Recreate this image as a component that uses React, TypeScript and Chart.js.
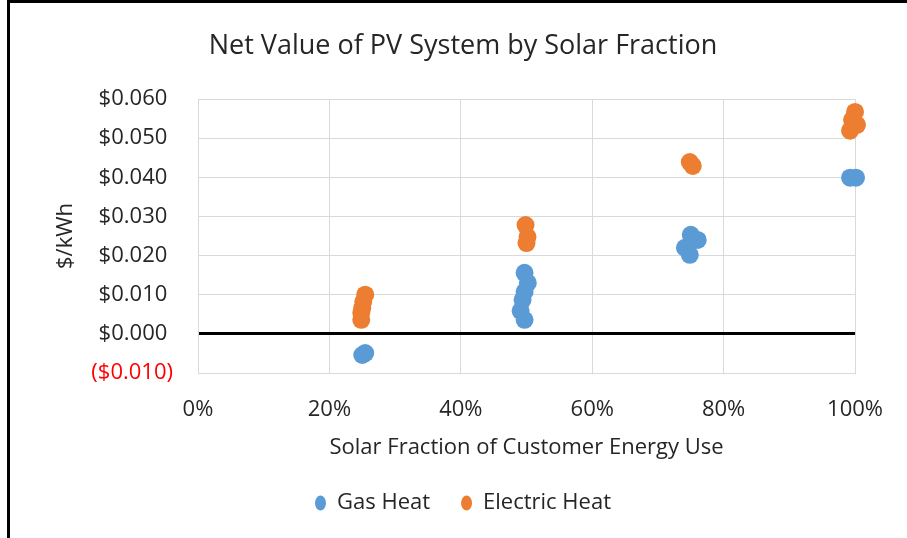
import { useEffect, useRef } from "react";
import { Chart, registerables } from "chart.js";

Chart.register(...registerables);

const chartTitle = "Net Value of PV System by Solar Fraction";
const xAxisTitle = "Solar Fraction of Customer Energy Use";
const yAxisTitle = "$/kWh";
const seriesNames = ["Gas Heat", "Electric Heat"];

const gasX = [0.25, 0.2545, 0.497, 0.502, 0.497, 0.494, 0.491, 0.497, 0.75, 0.7606, 0.741, 0.7485, 0.9924, 1.0015];
const gasY = [-0.0054, -0.0049, 0.0156, 0.013, 0.0107, 0.0087, 0.0059, 0.0036, 0.0253, 0.024, 0.022, 0.0202, 0.0399, 0.0399];

const elecX = [0.2545, 0.2515, 0.25, 0.2485, 0.2485, 0.4985, 0.5015, 0.5, 0.7485, 0.753, 1.0, 0.9955, 1.003, 0.9924];
const elecY = [0.01, 0.0082, 0.0066, 0.0054, 0.0036, 0.0278, 0.0248, 0.0232, 0.0439, 0.0429, 0.0567, 0.0547, 0.0534, 0.0519];

const yMin = -0.01;
const yMax = 0.06;
const yStep = 0.01;
const xMin = 0;
const xMax = 1;
const xStep = 0.2;

const FONT = "Open Sans";
const TEXT = "#262626";

function toPoints(xs: number[], ys: number[]) {
  return xs.map((x, i) => ({ x, y: ys[i] }));
}

const framePlugin = {
  id: "frame",
  afterDraw(chart: any) {
    const ctx = chart.ctx;
    ctx.save();
    ctx.strokeStyle = "#000";
    ctx.lineWidth = 3;
    ctx.beginPath();
    ctx.moveTo(7, 1.5);
    ctx.lineTo(907, 1.5);
    ctx.moveTo(8.5, 0);
    ctx.lineTo(8.5, 538);
    ctx.stroke();
    ctx.restore();
  },
};

export default function App() {
  const ref = useRef<HTMLCanvasElement | null>(null);
  useEffect(() => {
    document.body.style.margin = "0";
    const canvas = ref.current;
    if (!canvas) return;
    const chart = new Chart(canvas, {
      type: "scatter",
      data: {
        datasets: [
          {
            label: seriesNames[0],
            data: toPoints(gasX, gasY),
            backgroundColor: "#5B9BD5",
            borderColor: "#5B9BD5",
            borderWidth: 0,
            pointRadius: 9,
            pointHoverRadius: 9,
            clip: false as any,
          },
          {
            label: seriesNames[1],
            data: toPoints(elecX, elecY),
            backgroundColor: "#ED7D31",
            borderColor: "#ED7D31",
            borderWidth: 0,
            pointRadius: 9,
            pointHoverRadius: 9,
            clip: false as any,
          },
        ],
      },
      options: {
        animation: false,
        responsive: false,
        maintainAspectRatio: false,
        layout: { padding: { left: 68, right: 49, top: 0, bottom: 14 } },
        plugins: {
          title: {
            display: true,
            text: chartTitle,
            color: TEXT,
            font: { family: FONT, size: 27, weight: "normal" },
            padding: { top: 29.8, bottom: 36.8 },
          },
          legend: {
            position: "bottom",
            labels: {
              usePointStyle: true,
              pointStyle: "circle",
              pointStyleWidth: 11,
              boxHeight: 10.6,
              padding: 31,
              color: TEXT,
              font: { family: FONT, size: 22 },
            },
          },
          tooltip: { enabled: false },
        },
        scales: {
          x: {
            type: "linear",
            min: xMin,
            max: xMax,
            afterFit: (s: any) => {
              s.height = 88;
            },
            ticks: {
              stepSize: xStep,
              padding: 24,
              color: TEXT,
              font: { family: FONT, size: 22 },
              callback: (v: any) => `${Math.round(Number(v) * 100)}%`,
            },
            grid: { color: "#d9d9d9", drawTicks: false },
            border: { color: "#d9d9d9" },
            title: {
              display: true,
              text: xAxisTitle,
              color: TEXT,
              font: { family: FONT, size: 22 },
              padding: { top: 0, bottom: 0 },
            },
          },
          y: {
            type: "linear",
            min: yMin,
            max: yMax,
            afterFit: (s: any) => {
              s.width = 130;
            },
            ticks: {
              stepSize: yStep,
              padding: 25,
              font: { family: FONT, size: 22 },
              color: (c: any) => (c.tick && c.tick.value < -1e-9 ? "#FF0000" : TEXT),
              callback: (v: any) => {
                const n = Math.round(Number(v) * 1000) / 1000;
                const s = `$${Math.abs(n).toFixed(3)}`;
                return n < 0 ? `(${s})` : `${s} `;
              },
            },
            grid: {
              drawTicks: false,
              color: (c: any) => (c.tick && Math.abs(c.tick.value) < 1e-9 ? "#000" : "#d9d9d9"),
              lineWidth: (c: any) => (c.tick && Math.abs(c.tick.value) < 1e-9 ? 3 : 1),
            },
            border: { color: "#d9d9d9" },
            title: {
              display: true,
              text: yAxisTitle,
              color: TEXT,
              font: { family: FONT, size: 22 },
              padding: { top: -15, bottom: 0 },
            },
          },
        },
      },
      plugins: [framePlugin],
    });
    return () => chart.destroy();
  }, []);
  return (
    <div style={{ width: 907, height: 538, background: "#fff" }}>
      <canvas ref={ref} width={907} height={538} style={{ display: "block" }} />
    </div>
  );
}
